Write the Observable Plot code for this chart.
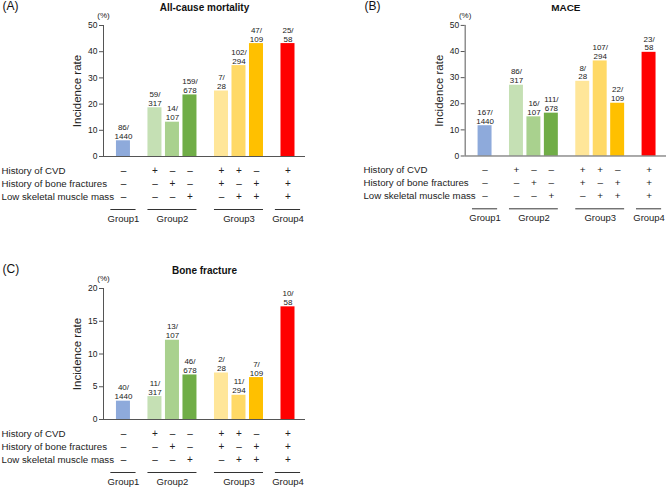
<!DOCTYPE html>
<html><head><meta charset="utf-8">
<script src="https://cdn.jsdelivr.net/npm/d3@7"></script>
<script src="https://cdn.jsdelivr.net/npm/@observablehq/plot@0.6"></script>
<style>
body{margin:0;background:#fff;font-family:"Liberation Sans",Arial,sans-serif;}
#root{position:relative;width:669px;height:487px;overflow:hidden;background:#fff;}
.panel{position:absolute;}
.panel svg{overflow:visible;}
</style></head><body><div id="root"></div>
<script>
// Bars, left to right
const groups   = ["Group1","Group2","Group2","Group2","Group3","Group3","Group3","Group4"];
const cvd      = ["–","+","–","–","+","+","–","+"];
const fracture = ["–","–","+","–","+","–","+","+"];
const muscle   = ["–","–","–","+","–","+","+","+"];
const colors   = ["#8eaadb","#c5e0b4","#a9d18e","#70ad47","#ffe699","#ffd966","#ffc000","#ff0000"];
const rowLabels = ["History of CVD","History of bone fractures","Low skeletal muscle mass"];

// (A) All-cause mortality
const mortalityRate   = [6.0, 18.6, 13.1, 23.5, 25.0, 34.7, 43.1, 43.1];
const mortalityEvents = ["86","59","14","159","7","102","47","25"];
const mortalityTotals = ["1440","317","107","678","28","294","109","58"];
// (B) MACE
const maceRate   = [11.6, 27.1, 15.0, 16.4, 28.6, 36.4, 20.2, 39.7];
const maceEvents = ["167","86","16","111","8","107","22","23"];
const maceTotals = ["1440","317","107","678","28","294","109","58"];
// (C) Bone fracture
const fractureRate   = [2.8, 3.5, 12.1, 6.8, 7.1, 3.7, 6.4, 17.2];
const fractureEvents = ["40","11","13","46","2","11","7","10"];
const fractureTotals = ["1440","317","107","678","28","294","109","58"];

const yTicksA = [0,10,20,30,40,50];
const yTicksC = [0,5,10,15,20];

const groupOrder = ["Group1","Group2","Group3","Group4"];
const ML = 103;

function panel({tag, title, rates, events, totals, yTicks}) {
  const data = rates.map((r, i) => ({
    rate: r, color: colors[i], label: `${events[i]}/\n${totals[i]}`,
    cvd: cvd[i], fr: fracture[i], mu: muscle[i],
    pos: i + groupOrder.indexOf(groups[i]) * 0.8
  }));
  const spans = groupOrder.map(g => {
    const ps = data.filter((d, i) => groups[i] === g).map(d => d.pos);
    const pad = ps.length === 1 ? 0.72 : 0.4;
    return {g, x1: d3.min(ps) - pad, x2: d3.max(ps) + pad, mid: (d3.min(ps) + d3.max(ps)) / 2};
  });
  const xDom = [-1.14, 10.4];
  const txt = "#222";
  const T = {lineAnchor: "middle", fill: txt};
  return Plot.plot({
    width: 308, height: 224,
    marginLeft: ML, marginRight: 3, marginTop: 25, marginBottom: 68,
    style: {fontFamily: "'Liberation Sans', Arial, sans-serif", color: txt, background: "transparent"},
    x: {domain: xDom, axis: null},
    y: {domain: [0, d3.max(yTicks)], axis: null},
    color: {type: "identity"},
    marks: [
      Plot.rect(data, {x1: d => d.pos - 0.4, x2: d => d.pos + 0.4, y1: d => 0, y2: "rate", fill: "color"}),
      Plot.ruleY([0], {stroke: "#555", strokeWidth: 1}),
      Plot.ruleX([xDom[0]], {stroke: "#555", strokeWidth: 1}),
      Plot.axisY(yTicks, {tickSize: 4, tickPadding: 2, fontSize: 8.5, label: null, stroke: "#555", fill: txt}),
      Plot.text(data, {x: "pos", y: "rate", text: "label", lineAnchor: "bottom", dy: -2, fontSize: 8, lineHeight: 1.1, fill: txt}),
      Plot.text([title], {...T, frameAnchor: "top", textAnchor: "middle", dy: -18, fontWeight: "bold", fontSize: 10, fill: "#111"}),
      Plot.text([tag], {...T, frameAnchor: "top-left", dx: -(ML - 2), dy: -19, textAnchor: "start", fontSize: 12, fill: "#111"}),
      Plot.text(["(%)"], {...T, frameAnchor: "top-left", textAnchor: "middle", dy: -10, fontSize: 8}),
      Plot.text(["Incidence rate"], {...T, frameAnchor: "left", textAnchor: "middle", rotate: -90, dx: -26, fontSize: 11.5}),
      ...rowLabels.map((lab, k) => Plot.text([lab], {...T, frameAnchor: "bottom-left", dx: -(ML - 1), dy: 14 + 13 * k, textAnchor: "start", fontSize: 9.7})),
      ...["cvd", "fr", "mu"].map((key, k) => Plot.text(data, {...T, x: "pos", frameAnchor: "bottom", textAnchor: "middle", text: key, dy: 14 + 13 * k, fontSize: 10})),
      Plot.ruleY(spans, {x1: "x1", x2: "x2", y: d => 0, dy: 53, stroke: "#333", strokeWidth: 1}),
      Plot.text(spans, {...T, x: "mid", frameAnchor: "bottom", textAnchor: "middle", text: "g", dy: 62.5, fontSize: 9.5})
    ]
  });
}

const root = document.getElementById("root");
function place(el, left, top) {
  const d = document.createElement("div");
  d.className = "panel"; d.style.left = left + "px"; d.style.top = top + "px";
  d.appendChild(el); root.appendChild(d);
}
place(panel({tag: "(A)", title: "All-cause mortality", rates: mortalityRate, events: mortalityEvents, totals: mortalityTotals, yTicks: yTicksA}), 0, 0);
place(panel({tag: "(B)", title: "MACE", rates: maceRate, events: maceEvents, totals: maceTotals, yTicks: yTicksA}), 362, 0);
place(panel({tag: "(C)", title: "Bone fracture", rates: fractureRate, events: fractureEvents, totals: fractureTotals, yTicks: yTicksC}), 0, 263);
</script></body></html>
